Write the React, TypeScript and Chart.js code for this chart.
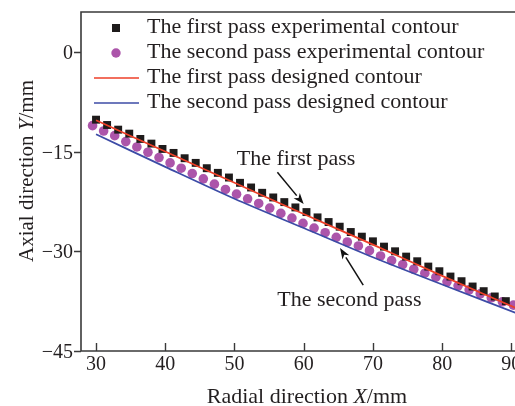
import React, { useEffect, useRef } from 'react';
import { Chart, registerables } from 'chart.js';

Chart.register(...registerables);

// ---- data ----
const firstExpX = [30, 31.6, 33.2, 34.8, 36.4, 38.0, 39.6, 41.2, 42.8, 44.4, 46.0, 47.6, 49.2, 50.8, 52.4, 54.0, 55.6, 57.2, 58.8, 60.4, 62.0, 63.6, 65.2, 66.8, 68.4, 70.0, 71.6, 73.2, 74.8, 76.4, 78.0, 79.6, 81.2, 82.8, 84.4, 86.0, 87.6, 89.2];
const firstExpY = [-10.2, -11.0, -11.7, -12.3, -13.1, -13.8, -14.6, -15.2, -16.0, -16.7, -17.5, -18.2, -18.9, -19.7, -20.4, -21.2, -21.9, -22.6, -23.4, -24.1, -24.9, -25.6, -26.3, -27.1, -27.8, -28.5, -29.3, -30.0, -30.8, -31.5, -32.3, -33.0, -33.8, -34.5, -35.3, -36.0, -36.8, -37.5];

const secondExpX = [29.5, 31.1, 32.7, 34.3, 35.9, 37.5, 39.1, 40.7, 42.3, 43.9, 45.5, 47.1, 48.7, 50.3, 51.9, 53.5, 55.1, 56.7, 58.3, 59.9, 61.5, 63.1, 64.7, 66.3, 67.9, 69.5, 71.1, 72.7, 74.3, 75.9, 77.5, 79.1, 80.7, 82.3, 83.9, 85.5, 87.1, 88.7, 90.3];
const secondExpY = [-11.1, -11.9, -12.6, -13.5, -14.3, -15.1, -15.9, -16.7, -17.5, -18.3, -19.1, -19.9, -20.7, -21.4, -22.1, -22.8, -23.5, -24.3, -25.0, -25.8, -26.5, -27.2, -27.9, -28.6, -29.2, -29.9, -30.7, -31.4, -32.0, -32.7, -33.3, -33.9, -34.6, -35.2, -35.8, -36.4, -37.0, -37.6, -38.1];

const firstDesX = [30, 40, 50, 60, 70, 80, 93];
const firstDesY = [-10.3, -15.0, -19.7, -24.4, -29.0, -33.7, -39.6];

const secondDesX = [30, 40, 50, 60, 70, 80, 93];
const secondDesY = [-12.4, -17.3, -22.1, -26.5, -30.9, -35.0, -40.2];

const xTicks = [30, 40, 50, 60, 70, 80, 90];
const yTicks = [0, -15, -30, -45];
const xRange = [27.83, 92.98];
const yRange = [-45, 6];

const legendLabels = [
  'The first pass experimental contour',
  'The second pass experimental contour',
  'The first pass designed contour',
  'The second pass designed contour',
];

// annotations: text anchor (center, baseline) and arrow tail -> tip, in data units
const annoTexts = ['The first pass', 'The second pass'];
const annoTextPos = [[58.9, -17.0], [66.6, -38.2]];
const annoArrowFrom = [[56.2, -18.1], [68.6, -35.1]];
const annoArrowTo = [[60.0, -22.9], [65.25, -29.5]];

// ---- styles ----
const SERIF = "'Liberation Serif', 'Times New Roman', serif";
const TEXT = '#231f20';
const AXIS = '#3a3a3a';
const SQUARE = '#1e1b1b';
const CIRCLE = '#ac55aa';
const RED = '#ee3f28';
const BLUE = '#3c4ba6';

const toPts = (xs: number[], ys: number[]) => xs.map((x, i) => ({ x, y: ys[i] }));

const fmt = (v: number) => (v < 0 ? '\u2212' + Math.abs(v) : String(v));

const decoPlugin = {
  id: 'deco',
  afterDraw(chart: any) {
    const { ctx, chartArea: a } = chart;
    const xs = chart.scales.x;
    const ys = chart.scales.y;
    ctx.save();

    // frame: top, left, bottom
    ctx.strokeStyle = AXIS;
    ctx.lineWidth = 1.6;
    ctx.beginPath();
    ctx.moveTo(a.right + 10, a.top);
    ctx.lineTo(a.left, a.top);
    ctx.lineTo(a.left, a.bottom);
    ctx.lineTo(a.right + 10, a.bottom);
    ctx.stroke();

    // ticks
    ctx.lineWidth = 1.4;
    ctx.beginPath();
    xTicks.forEach((v) => {
      const px = Math.round(xs.getPixelForValue(v)) + 0.5;
      ctx.moveTo(px, a.bottom);
      ctx.lineTo(px, a.bottom - 8);
    });
    yTicks.forEach((v) => {
      const py = Math.round(ys.getPixelForValue(v)) + 0.5;
      ctx.moveTo(a.left, py);
      ctx.lineTo(a.left - 7, py);
    });
    ctx.stroke();

    // tick labels
    ctx.fillStyle = TEXT;
    ctx.font = `20px ${SERIF}`;
    ctx.textBaseline = 'alphabetic';
    ctx.textAlign = 'center';
    xTicks.forEach((v) => {
      ctx.fillText(fmt(v), xs.getPixelForValue(v), a.bottom + 18.5);
    });
    ctx.textAlign = 'right';
    yTicks.forEach((v) => {
      ctx.fillText(fmt(v), a.left - 8, ys.getPixelForValue(v) + 7);
    });

    // axis titles with italic variable
    const drawMixed = (parts: [string, boolean][], size: number) => {
      const widths = parts.map(([t, it]) => {
        ctx.font = `${it ? 'italic ' : ''}${size}px ${SERIF}`;
        return ctx.measureText(t).width;
      });
      const total = widths.reduce((s, w) => s + w, 0);
      let cx = -total / 2;
      ctx.textAlign = 'left';
      parts.forEach(([t, it], i) => {
        ctx.font = `${it ? 'italic ' : ''}${size}px ${SERIF}`;
        ctx.fillText(t, cx, 0);
        cx += widths[i];
      });
    };
    ctx.save();
    ctx.translate(307, 403);
    drawMixed([['Radial direction ', false], ['X', true], ['/mm', false]], 22);
    ctx.restore();
    ctx.save();
    ctx.translate(33, 171);
    ctx.rotate(-Math.PI / 2);
    drawMixed([['Axial direction ', false], ['Y', true], ['/mm', false]], 21);
    ctx.restore();

    // legend
    const lx = 116;
    const tx = 147;
    ctx.font = `22px ${SERIF}`;
    ctx.textAlign = 'left';
    legendLabels.forEach((lab, i) => {
      const base = 33 + 25 * i;
      const my = base - 5;
      if (i === 0) {
        ctx.fillStyle = SQUARE;
        ctx.fillRect(lx - 4, my - 4, 8, 8);
      } else if (i === 1) {
        ctx.fillStyle = CIRCLE;
        ctx.beginPath();
        ctx.arc(lx, my, 4.7, 0, Math.PI * 2);
        ctx.fill();
      } else {
        ctx.strokeStyle = i === 2 ? RED : BLUE;
        ctx.lineWidth = 1.6;
        ctx.beginPath();
        ctx.moveTo(94, my);
        ctx.lineTo(139, my);
        ctx.stroke();
      }
      ctx.fillStyle = TEXT;
      ctx.fillText(lab, tx, base);
    });

    // annotations
    ctx.font = `22px ${SERIF}`;
    ctx.textAlign = 'center';
    annoTexts.forEach((t, i) => {
      ctx.fillStyle = TEXT;
      ctx.fillText(t, xs.getPixelForValue(annoTextPos[i][0]), ys.getPixelForValue(annoTextPos[i][1]));
      const x0 = xs.getPixelForValue(annoArrowFrom[i][0]);
      const y0 = ys.getPixelForValue(annoArrowFrom[i][1]);
      const x1 = xs.getPixelForValue(annoArrowTo[i][0]);
      const y1 = ys.getPixelForValue(annoArrowTo[i][1]);
      const ang = Math.atan2(y1 - y0, x1 - x0);
      const hl = 11;
      const hw = 4;
      const bx = x1 - hl * Math.cos(ang);
      const by = y1 - hl * Math.sin(ang);
      ctx.strokeStyle = '#111';
      ctx.lineWidth = 1.5;
      ctx.beginPath();
      ctx.moveTo(x0, y0);
      ctx.lineTo(bx, by);
      ctx.stroke();
      ctx.fillStyle = '#111';
      ctx.beginPath();
      ctx.moveTo(x1, y1);
      ctx.lineTo(bx + hw * Math.sin(ang), by - hw * Math.cos(ang));
      ctx.lineTo(x1 - (hl - 3) * Math.cos(ang), y1 - (hl - 3) * Math.sin(ang));
      ctx.lineTo(bx - hw * Math.sin(ang), by + hw * Math.cos(ang));
      ctx.closePath();
      ctx.fill();
    });

    ctx.restore();
  },
};

export default function App() {
  const ref = useRef<HTMLCanvasElement | null>(null);

  useEffect(() => {
    if (!ref.current) return;
    const chart = new Chart(ref.current, {
      type: 'scatter',
      data: {
        datasets: [
          {
            label: legendLabels[2],
            data: toPts(firstDesX, firstDesY),
            showLine: true,
            borderColor: RED,
            borderWidth: 1.7,
            pointRadius: 0,
            tension: 0.3,
            order: 0,
          } as any,
          {
            label: legendLabels[3],
            data: toPts(secondDesX, secondDesY),
            showLine: true,
            borderColor: BLUE,
            borderWidth: 1.7,
            pointRadius: 0,
            tension: 0.3,
            order: 0,
          },
          {
            label: legendLabels[0],
            data: toPts(firstExpX, firstExpY),
            pointStyle: 'rect',
            pointRadius: 5.6,
            backgroundColor: SQUARE,
            borderWidth: 0,
            order: 1,
          },
          {
            label: legendLabels[1],
            data: toPts(secondExpX, secondExpY),
            pointStyle: 'circle',
            pointRadius: 4.8,
            backgroundColor: CIRCLE,
            borderWidth: 0,
            order: 1,
          },
        ],
      },
      options: {
        responsive: false,
        devicePixelRatio: 1,
        animation: false,
        layout: { padding: { top: 12, right: 28, left: 0, bottom: 0 } },
        plugins: { legend: { display: false }, tooltip: { enabled: false } },
        scales: {
          x: {
            type: 'linear',
            min: xRange[0],
            max: xRange[1],
            grid: { display: false, drawTicks: false },
            border: { display: false },
            ticks: { display: false },
            afterFit: (s: any) => {
              s.height = 55;
            },
          },
          y: {
            type: 'linear',
            min: yRange[0],
            max: yRange[1],
            grid: { display: false, drawTicks: false },
            border: { display: false },
            ticks: { display: false },
            afterFit: (s: any) => {
              s.width = 81;
            },
          },
        },
      },
      plugins: [decoPlugin],
    });
    return () => chart.destroy();
  }, []);

  return (
    <div
      style={{
        position: 'fixed',
        left: 0,
        top: 0,
        width: 515,
        height: 406,
        overflow: 'hidden',
        background: '#fff',
      }}
    >
      <canvas ref={ref} width={560} height={406} style={{ display: 'block' }} />
    </div>
  );
}
